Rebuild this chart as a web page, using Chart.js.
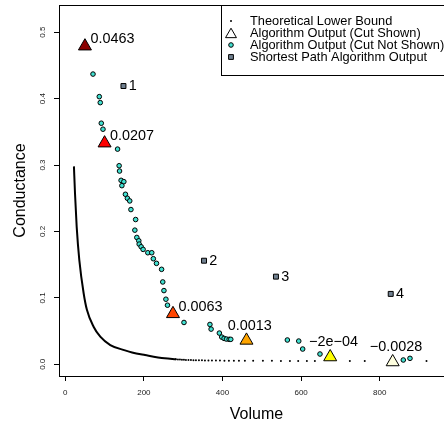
<!DOCTYPE html>
<html><head><meta charset="utf-8">
<script src="https://cdn.jsdelivr.net/npm/chart.js@4.4.1/dist/chart.umd.min.js"></script>
<style>html,body{margin:0;padding:0;overflow:hidden;background:#fff;width:444px;height:424px}canvas{display:block}</style>
</head><body><canvas id="c" width="460" height="424"></canvas>
<script>
const FONT = "'Liberation Sans', Arial, Helvetica, sans-serif";

// ---- data ----
const volumeTicks = [0, 200, 400, 600, 800];
const conductanceTicks = [0, 0.1, 0.2, 0.3, 0.4, 0.5];

const legendEntries = ['Theoretical Lower Bound', 'Algorithm Output (Cut Shown)', 'Algorithm Output (Cut Not Shown)', 'Shortest Path Algorithm Output'];

// theoretical lower bound: dense (solid-looking) part
const boundCurveVolume = [22, 24.7, 29, 35.7, 46.7, 55, 72, 89, 114.5, 152, 170, 203, 253, 282];
const boundCurveConductance = [0.298, 0.2575, 0.207, 0.157, 0.107, 0.082, 0.0566, 0.0416, 0.029, 0.021, 0.0178, 0.014, 0.009, 0.0075];
// theoretical lower bound: sparse dotted tail
const boundDotVolume = [281.5, 286.6, 291.7, 296.8, 301.9, 307, 313.3, 319.7, 326, 332.4, 340, 347.7, 355.3, 364.2, 373.1, 383.3, 393.5, 404.9, 416.3, 429, 441.8, 457, 478, 502.8, 525.7, 548.6, 571.5, 592.6, 614.7, 635, 724, 762, 919];
const boundDotConductance = [0.0075, 0.0073, 0.0071, 0.0069, 0.0068, 0.0066, 0.0065, 0.0064, 0.0063, 0.0062, 0.0061, 0.006, 0.0059, 0.0058, 0.0057, 0.0056, 0.0056, 0.0055, 0.0055, 0.0054, 0.0054, 0.0053, 0.0053, 0.0052, 0.0052, 0.0051, 0.0051, 0.0051, 0.005, 0.005, 0.0049, 0.0049, 0.0048];

// algorithm output, cut not shown
const cutNotShownVolume = [70.5, 86.5, 89, 91.6, 95.9, 133, 137, 138, 142, 149, 144, 153, 158, 164, 167, 179, 177, 182, 187, 188, 193, 198, 210, 220, 224, 232, 245, 248, 251, 256, 260, 302, 368, 371, 392, 398, 404, 410, 417, 421, 565, 594, 604, 648, 860, 877];
const cutNotShownConductance = [0.437, 0.403, 0.394, 0.363, 0.354, 0.324, 0.299, 0.291, 0.277, 0.275, 0.269, 0.256, 0.250, 0.246, 0.233, 0.218, 0.202, 0.191, 0.186, 0.181, 0.177, 0.173, 0.168, 0.168, 0.159, 0.152, 0.143, 0.124, 0.111, 0.098, 0.089, 0.063, 0.060, 0.053, 0.047, 0.041, 0.039, 0.038, 0.0376, 0.0376, 0.0366, 0.035, 0.023, 0.0155, 0.0065, 0.009];

// algorithm output, cut shown
const cutShownVolume = [50, 100, 274, 461, 674, 833];
const cutShownConductance = [0.479, 0.333, 0.076, 0.036, 0.011, 0.0035];
const cutShownLabels = ['0.0463', '0.0207', '0.0063', '0.0013', '\u22122e\u221204', '\u22120.0028'];

// shortest path algorithm output
const shortestPathVolume = [148, 353, 536, 828];
const shortestPathConductance = [0.419, 0.156, 0.132, 0.106];
const shortestPathLabels = ['1', '2', '3', '4'];

// ---- styles ----
const cutShownColors = ['#8B0000', '#FF0000', '#FF4500', '#FFA500', '#FFFF00', '#FFFFE0'];
const cutShownLabelPlacement = ['ne', 'ne', 'ne', 'n', 'n', 'n'];
const TEAL = '#40E0D0';
const SLATE = '#708090';

const pts = (xs, ys) => xs.map((x, i) => ({ x: x, y: ys[i] }));

const framePlugin = {
  id: 'frame',
  afterDraw(chart) {
    const { ctx, chartArea: a } = chart;
    ctx.save();
    ctx.strokeStyle = '#000';
    ctx.lineWidth = 1;
    ctx.beginPath();
    ctx.moveTo(Math.round(a.left) + 0.5, Math.round(a.top) + 0.5);
    ctx.lineTo(Math.round(a.right) + 0.5, Math.round(a.top) + 0.5);
    ctx.lineTo(Math.round(a.right) + 0.5, Math.round(a.bottom) + 0.5);
    ctx.stroke();
    ctx.restore();
  }
};

const labelPlugin = {
  id: 'pointLabels',
  afterDatasetsDraw(chart) {
    const ctx = chart.ctx;
    ctx.save();
    ctx.font = '14.4px ' + FONT;
    ctx.fillStyle = '#000';
    ctx.textBaseline = 'middle';
    chart.data.datasets.forEach((ds, di) => {
      if (!ds.pointLabels) return;
      const meta = chart.getDatasetMeta(di);
      meta.data.forEach((el, i) => {
        const place = ds.labelPlacement ? ds.labelPlacement[i] : 'e';
        if (place === 'ne') { ctx.textAlign = 'left'; ctx.fillText(ds.pointLabels[i], el.x + 5.5, el.y - 7); }
        else if (place === 'n') { ctx.textAlign = 'center'; ctx.fillText(ds.pointLabels[i], el.x + 3.3, el.y - 14.8); }
        else { ctx.textAlign = 'left'; ctx.fillText(ds.pointLabels[i], el.x + 5.3, el.y + 0.5); }
      });
    });
    ctx.restore();
  }
};

const legendPlugin = {
  id: 'boxLegend',
  afterDraw(chart) {
    const { ctx, chartArea: a } = chart;
    const left = 221, top = Math.round(a.top), bottom = 75, right = Math.round(a.right);
    ctx.save();
    ctx.fillStyle = '#fff';
    ctx.fillRect(left, top, right - left, bottom - top);
    ctx.strokeStyle = '#000';
    ctx.lineWidth = 1;
    ctx.strokeRect(left + 0.5, top + 0.5, right - left, bottom - top);
    const rows = [21, 33, 45, 57];
    const sx = 231, tx = 250;
    const sym = [
      { pointStyle: 'circle', radius: 1, borderWidth: 0, fill: '#000', stroke: '#000', dy: 0 },
      { pointStyle: 'triangle', radius: 6.3, borderWidth: 1, fill: 'rgba(0,0,0,0)', stroke: '#000', dy: 1.5 },
      { pointStyle: 'circle', radius: 2.3, borderWidth: 1, fill: TEAL, stroke: '#000', dy: 0 },
      { pointStyle: 'rect', radius: 3.4, borderWidth: 1, fill: SLATE, stroke: '#000', dy: 0 }
    ];
    sym.forEach((s, i) => {
      ctx.fillStyle = s.fill; ctx.strokeStyle = s.stroke; ctx.lineWidth = s.borderWidth;
      Chart.helpers.drawPoint(ctx, { pointStyle: s.pointStyle, radius: s.radius, borderWidth: s.borderWidth, rotation: 0 }, sx, rows[i] + s.dy);
    });
    ctx.fillStyle = '#000';
    ctx.font = '12.8px ' + FONT;
    ctx.textAlign = 'left';
    ctx.textBaseline = 'middle';
    legendEntries.forEach((t, i) => ctx.fillText(t, tx, rows[i] + 0.5));
    ctx.restore();
  }
};

new Chart(document.getElementById('c'), {
  type: 'scatter',
  data: {
    datasets: [
      { label: legendEntries[1], data: pts(cutShownVolume, cutShownConductance), pointStyle: 'triangle', pointRadius: 7.5, pointBorderWidth: 1, pointBackgroundColor: cutShownColors, pointBorderColor: '#000', pointLabels: cutShownLabels, labelPlacement: cutShownLabelPlacement, order: 0 },
      { label: legendEntries[3], data: pts(shortestPathVolume, shortestPathConductance), pointStyle: 'rect', pointRadius: 3.5, pointBorderWidth: 1, pointBackgroundColor: SLATE, pointBorderColor: '#000', pointLabels: shortestPathLabels, order: 1 },
      { label: legendEntries[2], data: pts(cutNotShownVolume, cutNotShownConductance), pointStyle: 'circle', pointRadius: 2.3, pointBorderWidth: 1, pointBackgroundColor: TEAL, pointBorderColor: '#000', order: 2 },
      { label: legendEntries[0], data: pts(boundDotVolume, boundDotConductance), pointStyle: 'circle', pointRadius: 1, pointBorderWidth: 0, pointBackgroundColor: '#000', order: 3 },
      { label: legendEntries[0], data: pts(boundCurveVolume, boundCurveConductance), showLine: true, pointRadius: 0, borderColor: '#000', borderWidth: 2, cubicInterpolationMode: 'monotone', fill: false, order: 4 }
    ]
  },
  options: {
    responsive: false, animation: false, devicePixelRatio: 1,
    layout: { autoPadding: false, padding: { left: 0, top: 5, right: 6, bottom: 0 } },
    plugins: { legend: { display: false }, tooltip: { enabled: false } },
    scales: {
      x: {
        type: 'linear', position: 'bottom', min: -16, max: 989,
        afterBuildTicks: s => { s.ticks = volumeTicks.map(v => ({ value: v })); },
        afterFit: s => { s.height = 48; s.paddingLeft = 0; s.paddingRight = 0; },
        grid: { display: true, drawOnChartArea: false, drawTicks: true, tickLength: 5, tickColor: '#000', tickWidth: 1 },
        border: { display: true, color: '#000', width: 1 },
        ticks: { font: { family: FONT, size: 8 }, color: '#222', padding: 6.5, minRotation: 0, maxRotation: 0, autoSkip: false, callback: v => String(v) },
        title: { display: true, text: 'Volume', font: { family: FONT, size: 16 }, color: '#000', padding: { top: 0, bottom: 0 } }
      },
      y: {
        type: 'linear', position: 'left', min: -0.0176, max: 0.541,
        afterBuildTicks: s => { s.ticks = conductanceTicks.map(v => ({ value: v })); },
        afterFit: s => { s.width = 59; s.paddingTop = 0; s.paddingBottom = 0; },
        grid: { display: true, drawOnChartArea: false, drawTicks: true, tickLength: 5, tickColor: '#000', tickWidth: 1 },
        border: { display: true, color: '#000', width: 1 },
        ticks: { font: { family: FONT, size: 8 }, color: '#222', padding: 5.7, minRotation: 90, maxRotation: 90, crossAlign: 'center', autoSkip: false, callback: v => Number(v).toFixed(1) },
        title: { display: true, text: 'Conductance', font: { family: FONT, size: 16 }, color: '#000', padding: { top: 11, bottom: 0 } }
      }
    }
  },
  plugins: [framePlugin, labelPlugin, legendPlugin]
});
</script>
</body></html>
